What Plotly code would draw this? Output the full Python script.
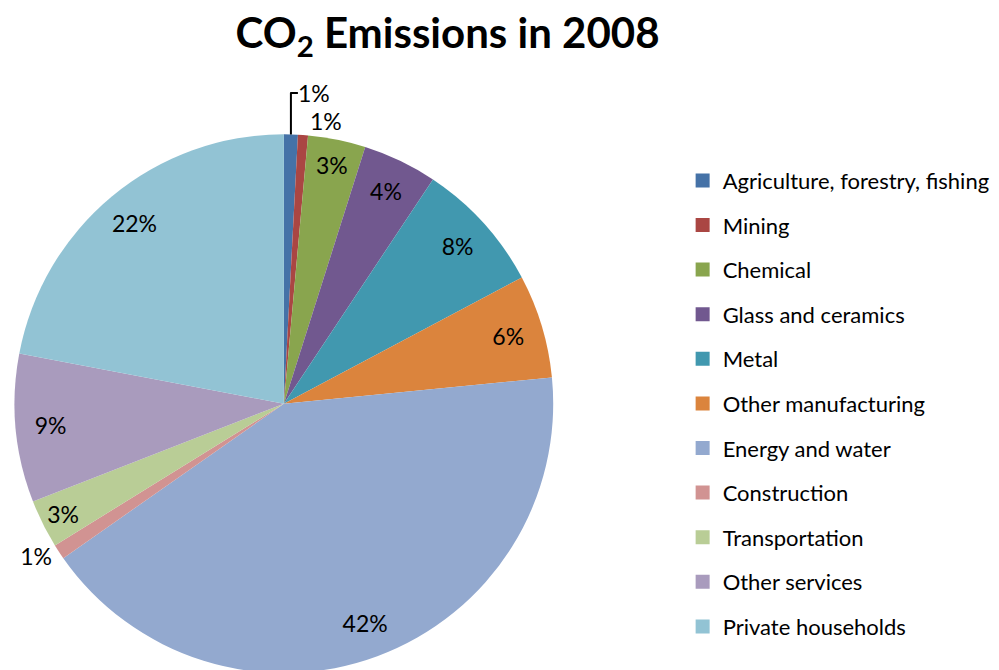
import plotly.graph_objects as go

categories = ["Agriculture, forestry, fishing", "Mining", "Chemical", "Glass and ceramics",
              "Metal", "Other manufacturing", "Energy and water", "Construction",
              "Transportation", "Other services", "Private households"]
values = [0.83, 0.6, 3.45, 4.45, 7.9, 6.2, 41.8, 0.9, 2.9, 8.9, 22.0]
colors = ["#4572A7", "#AA4643", "#89A54E", "#71588F", "#4198AF", "#DB843D",
          "#93A9CF", "#D19392", "#B9CD96", "#A99BBD", "#92C3D4"]
text_positions = ["outside", "outside", "inside", "inside", "inside", "inside",
                  "inside", "outside", "inside", "inside", "inside"]

FONT = "Lato"
DOMAIN = dict(x=[0.0015, 0.545], y=[0.0, 0.81])

fig = go.Figure()
# coloured slices
fig.add_trace(go.Pie(
    labels=categories, values=values, sort=False, direction="clockwise", rotation=0,
    marker=dict(colors=colors, line=dict(width=0)),
    textinfo="none", showlegend=False, hoverinfo="label+percent",
    domain=DOMAIN,
))
# transparent ring carrying the percentage labels near the rim
fig.add_trace(go.Pie(
    labels=categories, values=values, sort=False, direction="clockwise", rotation=0,
    hole=0.74,
    marker=dict(colors=["rgba(0,0,0,0)"] * len(values), line=dict(width=0)),
    texttemplate="%{percent:.0%}", textposition=text_positions,
    insidetextorientation="horizontal",
    textfont=dict(family=FONT, size=23, color="black"),
    showlegend=False, hoverinfo="skip",
    domain=DOMAIN,
))

for cat, col in zip(categories, colors):
    fig.add_trace(go.Scatter(
        x=[None], y=[None], mode="markers", name=cat, legendgroup=cat,
        marker=dict(symbol="square", size=14, color=col),
    ))

fig.update_layout(
    width=999, height=670,
    margin=dict(l=0, r=0, t=0, b=0),
    paper_bgcolor="white", plot_bgcolor="white",
    title=dict(text="<b>CO<sub>2</sub> Emissions in 2008</b>", x=0.44, xanchor="center",
               y=0.962, yanchor="middle", font=dict(family=FONT, size=42, color="black")),
    xaxis=dict(visible=False), yaxis=dict(visible=False),
    legend=dict(x=0.674, y=0.772, xanchor="left", yanchor="top",
                font=dict(family=FONT, size=22, color="black"),
                tracegroupgap=13, itemwidth=30),
    uniformtext=dict(minsize=23, mode="show"),
)

fig.write_html("out.html")
